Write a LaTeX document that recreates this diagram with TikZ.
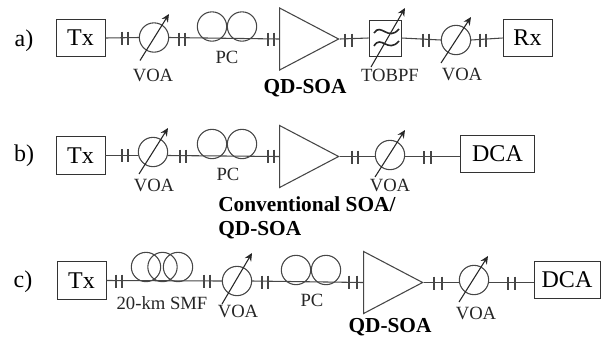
\documentclass[tikz,border=0pt]{standalone}
\usepackage{fontspec}
\setmainfont{Liberation Serif}
\usetikzlibrary{calc, positioning, arrows.meta, shapes.geometric}
\definecolor{colFibre}{RGB}{70, 70, 70}

\begin{document}
\begin{tikzpicture}[
  x=0.75pt, y=-0.75pt,
  >={Stealth[length=6pt, width=5.5pt]},
  fibre/.style={draw=colFibre, line width=0.8pt},
  rowlabel/.style={font=\fontsize{18}{20}\selectfont},
  instr/.style={draw=black!80, line width=0.7pt, inner sep=0pt, minimum height=28pt,
                font=\fontsize{18}{20}\selectfont},
  voa/.style={circle, draw=colFibre, line width=0.8pt, fill=white, inner sep=0pt, minimum size=22pt},
  loopc/.style={circle, draw=colFibre, line width=0.8pt, inner sep=0pt, minimum size=22pt},
  soa/.style={isosceles triangle, isosceles triangle stretches, draw=colFibre,
              line width=0.8pt, fill=white, inner sep=0pt, minimum width=46.5pt,
              minimum height=44.25pt, anchor=apex},
  lab/.style={font=\fontsize{14}{16}\selectfont, text=black!85, inner sep=0pt},
  blab/.style={font=\fontsize{16}{18}\selectfont\bfseries, inner sep=0pt},
  tick/.style={draw=colFibre, line width=0.8pt},
  vary/.style={->, draw=black!85, line width=0.8pt}
]
\useasboundingbox (0,0) rectangle (601,337);

% ---------- Ligne a) ----------
\node[rowlabel] (la) at (24,41) {a)};
\node[instr, minimum width=36.75pt] (txa) at (80.5,38) {Tx};
\node[voa] (voaa) at (154,37.5) {};
\node[loopc] (pcaa) at (212,26.5) {};
\node[loopc] (pcab) at (242,26.5) {};
\node[soa] (soaa) at (340,39) {};
\node[draw=black!80, line width=0.7pt, minimum width=24pt, minimum height=27pt, inner sep=0pt] (tob) at (385,38) {};
\node[voa] (voab) at (456,40) {};
\node[instr, minimum width=36.75pt] (rx) at (527.5,38) {Rx};

\draw[fibre] (txa.east) -- (voaa.west);
\draw[fibre] (voaa.east) -- (soaa.lower side);
\draw[fibre] (soaa.apex) -- (tob.west);
\draw[fibre] (tob.east) -- (voab.west);
\draw[fibre] (voab.east) -- (rx.west);
\foreach \x/\y in {122/38, 128/38, 179/39, 185/39, 268/39, 274/39, 345/40, 352/40, 423/40, 429/40, 480/40, 486/40}
  \draw[tick] (\x,\y-6.5) -- (\x,\y+6.5);
\draw[vary] ($(voaa.center)+(-14,23)$) -- ($(voaa.center)+(15,-23.5)$);
\draw[vary] ($(voab.center)+(-15,23)$) -- ($(voab.center)+(15,-23)$);
\draw[vary] ($(tob.center)+(-14,29)$) -- ($(tob.center)+(20,-30)$);

% filtre
\draw[line width=1.2pt, draw=black!85] (374,33) .. controls (381,22) and (388,42) .. (399,29);
\draw[line width=1.2pt, draw=black!85] (374,46) .. controls (381,34) and (388,54) .. (399,41);

\node[lab] (va) at (153,75) {VOA};
\node[lab] (pa) at (227,57) {PC};
\node[blab] (qa) at (305,88) {QD-SOA};
\node[lab] (ta) at (390,75) {TOBPF};
\node[lab] (vb) at (462,74) {VOA};

% ---------- Ligne b) ----------
\node[rowlabel] (lb) at (24,156) {b)};
\node[instr, minimum width=36.75pt] (txb) at (80.5,155.5) {Tx};
\node[voa] (voac) at (153,152) {};
\node[loopc] (pcba) at (212,144) {};
\node[loopc] (pcbb) at (242,144) {};
\node[soa] (soab) at (340,156.5) {};
\node[voa] (voad) at (390,155) {};
\node[instr, minimum width=55pt] (dcb) at (497.5,154) {DCA};

\draw[fibre] (txb.east) -- (txb.east -| voac.west);
\draw[fibre] (txb.east -| voac.east) -- (soab.lower side);
\draw[fibre] (soab.apex) -- (soab.apex -| voad.west);
\draw[fibre] (soab.apex -| voad.east) -- (soab.apex -| dcb.west);
\foreach \x/\y in {122/155.5, 128/155.5, 180/156, 186/156, 268/156, 274/156, 352/157, 358/157, 424/157.5, 431/157.5}
  \draw[tick] (\x,\y-6.5) -- (\x,\y+6.5);
\draw[vary] ($(voac.center)+(-14,22)$) -- ($(voac.center)+(15,-24)$);
\draw[vary] ($(voad.center)+(-15,22)$) -- ($(voad.center)+(15,-25)$);

\node[lab] (vc) at (154,185) {VOA};
\node[lab] (pb) at (228,174) {PC};
\node[lab] (vd) at (390,185) {VOA};
\node[blab, anchor=west] (qb) at (218,204) {Conventional SOA/};
\node[blab, anchor=west] (qc) at (218,230) {QD-SOA};

% ---------- Ligne c) ----------
\node[rowlabel] (lc) at (23,282) {c)};
\node[instr, minimum width=36.75pt] (txc) at (81.5,280.5) {Tx};
\node[loopc] (smfa) at (146,267) {};
\node[loopc] (smfb) at (162.5,267) {};
\node[loopc] (smfc) at (178,267) {};
\node[voa] (voae) at (237,281) {};
\node[loopc] (pcca) at (296,270) {};
\node[loopc] (pccb) at (326,270) {};
\node[soa] (soac) at (424,282.5) {};
\node[voa] (voaf) at (474,280) {};
\node[instr, minimum width=49.5pt] (dcc) at (567,280) {DCA};

\draw[fibre] (txc.east) -- (voae.west);
\draw[fibre] (voae.east) -- (soac.lower side);
\draw[fibre] (soac.apex) -- (soac.apex -| voaf.west);
\draw[fibre] (soac.apex -| voaf.east) -- (soac.apex -| dcc.west);
\foreach \x/\y in {116/281, 122/281, 204/281, 210/281, 262/282, 268/282, 349/282, 357/282, 434/283, 442/283, 508/283, 515/283}
  \draw[tick] (\x,\y-6.5) -- (\x,\y+6.5);
\draw[vary] ($(voae.center)+(-15,23)$) -- ($(voae.center)+(15,-28)$);
\draw[vary] ($(voaf.center)+(-15,22)$) -- ($(voaf.center)+(14,-24)$);

\node[lab] (sm) at (162,303) {20-km SMF};
\node[lab] (ve) at (238,311) {VOA};
\node[lab] (pc) at (312,300) {PC};
\node[blab] (qd) at (390,327) {QD-SOA};
\node[lab] (vf) at (476,313) {VOA};

\end{tikzpicture}
\end{document}
